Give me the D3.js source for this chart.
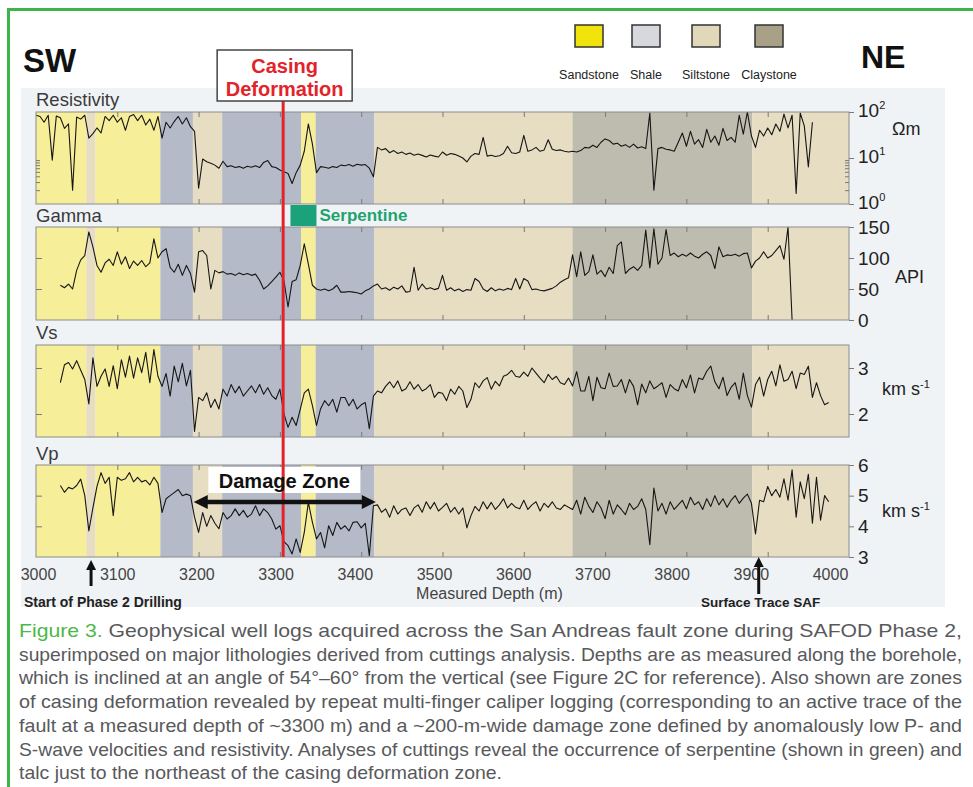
<!DOCTYPE html>
<html>
<head>
<meta charset="utf-8">
<script src="https://cdn.jsdelivr.net/npm/d3@7"></script>
<style>
  body { margin: 0; background: #fff; }
  svg text { font-family: "Liberation Sans", Arial, sans-serif; }
</style>
</head>
<body>
<svg id="chart"></svg>
<script>
// ---- values ----
const depthTicks = [3000, 3100, 3200, 3300, 3400, 3500, 3600, 3700, 3800, 3900, 4000];
const innerTicks = [3100, 3200, 3300, 3400, 3500, 3600, 3700, 3800, 3900];

// lithology intervals (measured depth, m)
const lithFrom = [3000, 3062, 3073, 3153, 3193, 3229, 3326, 3344, 3416, 3660, 3881];
const lithTo   = [3062, 3073, 3153, 3193, 3229, 3326, 3344, 3416, 3660, 3881, 4000];
const lithType = ["Sandstone", "Siltstone", "Sandstone", "Shale", "Siltstone", "Shale",
                  "Sandstone", "Shale", "Siltstone", "Claystone", "Siltstone"];
const legendNames = ["Sandstone", "Shale", "Siltstone", "Claystone"];

// log samples every 5 m
const logStep = 5;
const resistivityStart = 3000;
const resistivity = [
  85, 80, 60, 85, 9, 82, 75, 44, 55, 2.0,
  78, 70, 85, 27, 34, 45, 35, 80, 65, 85,
  60, 75, 40, 80, 88, 65, 85, 52, 70, 40,
  80, 27, 60, 45, 62, 80, 55, 75, 48, 38,
  2.2, 9.5, 8.3, 7.7, 7.0, 6.0, 8.5, 6.5, 6.8, 6.2,
  6.5, 6.0, 6.6, 6.3, 6.8, 6.2, 8.0, 8.8, 6.5, 6.2,
  5.5, 5.0, 4.6, 2.8, 4.8, 7.0, 14, 55, 20, 4.8,
  6.5, 6.3, 6.0, 6.5, 6.2, 7.0, 6.8, 7.2, 6.6, 7.3,
  7.0, 7.2, 6.0, 3.9, 17, 15, 16, 13, 14.5, 12.5,
  13.5, 12, 12.8, 11.5, 12.2, 11.4, 10.5, 11.6, 11.0, 10.5,
  13.5, 11.5, 12.5, 12.0, 11.0, 10.0, 8.2, 11.0, 12.5, 12.0,
  28, 11.0, 11.5, 10.8, 11.2, 12.5, 18, 13, 12.5, 13.5,
  31, 14, 15, 17, 14, 15, 25, 15.5, 14.5, 15,
  14, 13.5, 14, 13.5, 14.5, 17, 16.5, 19, 17, 22,
  26, 24, 20, 21, 18, 19.5, 17, 20, 16.5, 17.5,
  16, 95, 2.0, 16, 17, 15.5, 15, 14, 22, 35,
  18, 38, 20, 25, 17, 42, 22, 30, 19, 44,
  24, 28, 22, 85, 33, 100, 30, 17, 40, 30,
  45, 32, 55, 38, 90, 45, 85, 1.7, 95, 50,
  6.4, 60
];
const gammaStart = 3030;
const gamma = [
  56, 52, 58, 50, 80, 97, 104, 142, 118, 88,
  77, 92, 98, 88, 110, 90, 102, 83, 95, 88,
  96, 86, 92, 131, 100, 110, 115, 85, 77, 90,
  72, 88, 75, 45, 110, 112, 104, 50, 80, 76,
  78, 74, 75, 72, 76, 73, 75, 72, 74, 64,
  50, 55, 62, 69, 77, 63, 21, 62, 65, 88,
  123, 90, 56, 50, 48, 50, 47, 50, 56, 45,
  45, 46, 45, 44, 42, 47, 50, 55, 58, 50,
  52, 48, 53, 50, 55, 45, 46, 85, 48, 58,
  50, 52, 49, 51, 72, 48, 52, 47, 50, 46,
  49, 48, 67, 62, 50, 46, 52, 47, 50, 48,
  51, 49, 67, 50, 67, 63, 49, 50, 48, 47,
  49, 51, 55, 61, 65, 68, 105, 70, 110, 72,
  78, 105, 74, 80, 70, 85, 75, 120, 126, 75,
  82, 86, 80, 88, 145, 84, 147, 90, 100, 146,
  104, 108, 102, 106, 103, 108, 103, 100, 106, 110,
  104, 83, 118, 102, 105, 104, 106, 103, 107, 108,
  84, 95, 100, 110, 100, 104, 112, 120, 98, 150,
  0
];
const vsStart = 3030;
const vs = [
  2.68, 3.07, 3.12, 2.98, 3.16, 2.95, 2.75, 2.22, 3.22, 2.60,
  2.82, 2.98, 2.60, 3.05, 2.55, 3.18, 2.80, 3.26, 2.78, 3.22,
  2.90, 3.34, 2.68, 3.40, 2.82, 2.60, 2.88, 2.39, 3.04, 2.70,
  3.10, 2.61, 2.95, 1.62, 2.36, 2.29, 2.46, 2.14, 2.32, 2.11,
  2.54, 2.39, 2.64, 2.46, 2.60, 2.39, 2.50, 2.61, 2.46, 2.64,
  2.43, 2.57, 2.40, 2.32, 2.54, 2.00, 1.71, 1.93, 1.75, 2.10,
  2.46, 2.54, 2.18, 1.75, 2.11, 2.29, 2.18, 2.32, 2.04, 2.36,
  2.36, 2.18, 2.32, 2.11, 2.20, 2.25, 1.68, 2.39, 2.50, 2.46,
  2.60, 2.70, 2.57, 2.72, 2.50, 2.55, 2.70, 2.54, 2.64, 2.50,
  2.55, 2.64, 2.36, 2.47, 2.45, 2.29, 2.54, 2.43, 2.60, 2.50,
  2.14, 2.32, 2.68, 2.57, 2.72, 2.79, 2.54, 2.71, 2.61, 2.82,
  2.86, 2.95, 2.82, 2.80, 2.91, 2.82, 3.00, 2.89, 2.78, 2.68,
  2.86, 2.75, 2.82, 2.68, 2.64, 2.78, 2.61, 2.92, 2.50, 2.50,
  2.82, 2.29, 2.80, 2.57, 2.55, 2.89, 2.60, 2.61, 2.75, 2.46,
  2.75, 2.60, 2.20, 2.65, 2.46, 2.72, 2.55, 2.61, 2.68, 2.36,
  2.64, 2.55, 2.50, 2.75, 2.57, 2.85, 2.46, 2.78, 2.75, 2.93,
  3.04, 2.70, 2.55, 2.80, 2.40, 2.58, 2.68, 2.32, 2.89, 2.40,
  2.15, 2.64, 2.80, 2.39, 2.75, 2.93, 2.61, 3.07, 2.71, 2.75,
  2.93, 2.55, 2.89, 2.86, 3.04, 2.36, 2.68, 2.40, 2.20, 2.25
];
const vpStart = 3030;
const vp = [
  5.33, 5.11, 5.27, 5.22, 5.33, 5.54, 5.00, 3.85, 4.60, 5.30,
  5.75, 5.40, 5.60, 4.35, 5.60, 5.50, 5.55, 5.75, 5.45, 5.60,
  5.45, 5.50, 5.35, 5.60, 5.40, 4.45, 4.90, 5.00, 5.10, 5.20,
  5.00, 5.05, 5.00, 4.30, 3.80, 4.45, 4.00, 4.35, 4.10, 3.92,
  4.45, 4.24, 4.35, 4.57, 4.35, 4.52, 4.30, 4.40, 4.67, 4.35,
  4.57, 4.45, 4.24, 3.91, 4.02, 3.50, 3.37, 3.10, 3.59, 3.15,
  3.80, 4.78, 4.13, 3.59, 3.80, 3.30, 4.02, 3.70, 4.13, 3.91,
  4.02, 3.85, 4.13, 4.15, 3.95, 4.10, 3.04, 4.67, 4.70, 4.46,
  4.57, 4.30, 4.67, 4.40, 4.55, 4.60, 4.35, 4.60, 4.70, 4.46,
  4.80, 4.57, 4.78, 4.50, 4.62, 4.75, 4.46, 4.62, 4.40, 4.60,
  3.95, 4.35, 4.65, 4.50, 4.80, 4.57, 4.78, 4.55, 4.70, 4.90,
  4.60, 4.75, 4.62, 4.57, 4.85, 4.55, 4.70, 4.80, 4.50, 4.75,
  4.62, 4.80, 4.60, 4.55, 4.70, 4.62, 4.55, 4.85, 4.40, 4.95,
  4.65, 4.45, 4.80, 4.60, 4.25, 4.85, 4.40, 4.70, 4.55, 4.38,
  4.75, 4.55, 4.65, 4.90, 4.55, 3.40, 5.25, 4.50, 4.75, 4.40,
  4.80, 4.55, 4.70, 4.85, 4.57, 4.95, 4.70, 4.80, 4.55, 4.90,
  4.65, 5.00, 4.70, 4.90, 4.62, 4.85, 5.00, 4.75, 4.92, 5.05,
  4.75, 3.75, 4.85, 4.80, 5.30, 5.00, 5.20, 4.95, 5.55, 4.85,
  5.84, 4.30, 5.45, 4.90, 5.70, 4.10, 5.60, 4.20, 5.00, 4.80
];

const resistivityTicks = [1, 10, 100];
const resistivityMinor = [2, 3, 4, 5, 6, 7, 8, 9];
const gammaTicks = [0, 50, 100, 150];
const vsTicks = [2, 3];
const vpTicks = [3, 4, 5, 6];

const casingDepth = 3304;
const serpentineZone = [3313, 3345];
const damageZone = [3194, 3418];
const damageLabelZone = [3212, 3399];
const phase2Depth = 3067;
const safDepth = 3910;

const captionLines = [
  "Geophysical well logs acquired across the San Andreas fault zone during SAFOD Phase 2,",
  "superimposed on major lithologies derived from cuttings analysis. Depths are as measured along the borehole,",
  "which is inclined at an angle of 54°–60° from the vertical (see Figure 2C for reference). Also shown are zones",
  "of casing deformation revealed by repeat multi-finger caliper logging (corresponding to an active trace of the",
  "fault at a measured depth of ~3300 m) and a ~200-m-wide damage zone defined by anomalously low P- and",
  "S-wave velocities and resistivity. Analyses of cuttings reveal the occurrence of serpentine (shown in green) and",
  "talc just to the northeast of the casing deformation zone."
];

// ---- drawing ----
const width = 973, height = 787;
const bandColor = { Sandstone: "#f6ee99", Shale: "#b4bac7", Siltstone: "#e7ddc3", Claystone: "#bdbcae" };
const legendColor = { Sandstone: "#f1e30c", Shale: "#d7d8dd", Siltstone: "#e1d7b9", Claystone: "#a9a088" };

const svg = d3.select("#chart").attr("width", width).attr("height", height);

// panels and their lithology / log traces
const x = d3.scaleLinear().domain([3000, 4000]).range([36, 849]);
// the depth labels under the panels sit on a slightly tighter spacing in the original
const xLabel = d3.scaleLinear().domain([3000, 4000]).range([38, 830]);
const R = x(4000);

// green frame + light figure background
svg.append("rect").attr("x", 21).attr("y", 88).attr("width", 924).attr("height", 519).attr("fill", "#f0f3f6");
svg.append("line").attr("x1", 7).attr("x2", width).attr("y1", 9.5).attr("y2", 9.5)
  .attr("stroke", "#3fb44b").attr("stroke-width", 3);
svg.append("line").attr("x1", 8.5).attr("x2", 8.5).attr("y1", 8).attr("y2", height)
  .attr("stroke", "#3fb44b").attr("stroke-width", 3);

const panels = [
  { label: "Resistivity", labelY: 106, top: 112, bottom: 204, y: d3.scaleLog().domain([1, 100]),
    start: resistivityStart, values: resistivity, ticks: resistivityTicks, edge: resistivityMinor, unit: "Ωm", unitX: 43, unitY: 135 },
  { label: "Gamma", labelY: 222, top: 227, bottom: 320, y: d3.scaleLinear().domain([0, 150]),
    start: gammaStart, values: gamma, ticks: gammaTicks, edge: [50, 100], unit: "API", unitX: 46, unitY: 283 },
  { label: "Vs", labelY: 339, top: 345, bottom: 437, y: d3.scaleLinear().domain([1.5, 3.5]),
    start: vsStart, values: vs, ticks: vsTicks, edge: vsTicks, unit: "km s", unitX: 33, unitY: 395 },
  { label: "Vp", labelY: 460, top: 465, bottom: 557, y: d3.scaleLinear().domain([3, 6]),
    start: vpStart, values: vp, ticks: vpTicks, edge: [4, 5], unit: "km s", unitX: 33, unitY: 517 }
];

const lith = lithFrom.map((d, i) => ({ from: d, to: lithTo[i], type: lithType[i] }));
const defs = svg.append("defs");

panels.forEach((p, k) => {
  p.y.range([p.bottom, p.top]).clamp(true);
  const g = svg.append("g");

  g.selectAll("rect.band")
    .data(lith)
    .enter().append("rect")
    .attr("x", d => x(d.from))
    .attr("width", d => x(d.to) - x(d.from))
    .attr("y", p.top).attr("height", p.bottom - p.top)
    .attr("fill", d => bandColor[d.type]);

  defs.append("clipPath").attr("id", "clip" + k)
    .append("rect").attr("x", x(3000)).attr("y", p.top)
    .attr("width", R - x(3000)).attr("height", p.bottom - p.top);

  const line = d3.line()
    .x((v, i) => x(p.start + i * logStep))
    .y(v => p.y(v));

  g.append("path")
    .datum(p.values)
    .attr("clip-path", "url(#clip" + k + ")")
    .attr("d", line)
    .attr("fill", "none")
    .attr("stroke", "#161616")
    .attr("stroke-width", 1.1)
    .attr("stroke-linejoin", "round");

  g.append("rect").attr("x", x(3000)).attr("y", p.top)
    .attr("width", R - x(3000)).attr("height", p.bottom - p.top)
    .attr("fill", "none").attr("stroke", "#8c8c8c").attr("stroke-width", 1);

  // inward depth ticks on top and bottom edges
  const tTop = g.append("g").attr("transform", `translate(0,${p.top})`)
    .call(d3.axisBottom(x).tickValues(innerTicks).tickSize(5).tickFormat(""));
  const tBot = g.append("g").attr("transform", `translate(0,${p.bottom})`)
    .call(d3.axisTop(x).tickValues(innerTicks).tickSize(5).tickFormat(""));
  // inward value ticks on the left edge
  const tLeft = g.append("g").attr("transform", `translate(${x(3000)},0)`)
    .call(d3.axisRight(p.y).tickValues(p.edge).tickSize(k === 0 ? 4 : 6).tickFormat(""));
  [tTop, tBot, tLeft].forEach(a => {
    a.select(".domain").remove();
    a.selectAll("line").attr("stroke", "#7a7a7a");
  });
  if (k === 0) {
    const tIn = g.append("g").attr("transform", `translate(${R},0)`)
      .call(d3.axisLeft(p.y).tickValues(p.edge).tickSize(4).tickFormat(""));
    tIn.select(".domain").remove();
    tIn.selectAll("line").attr("stroke", "#7a7a7a");
  }

  // right value axis
  const ax = g.append("g").attr("transform", `translate(${R},0)`)
    .call(d3.axisRight(p.y).tickValues(p.ticks).tickSize(5).tickPadding(4)
      .tickFormat(k === 0 ? "" : d3.format("d")));
  ax.select(".domain").remove();
  ax.selectAll("line").attr("stroke", "#7a7a7a");
  ax.selectAll("text").attr("font-size", 19).attr("fill", "#222")
    .attr("font-family", "Liberation Sans, Arial, sans-serif");

  if (k === 0) {
    p.ticks.forEach(v => {
      const t = g.append("text").attr("x", R + 9).attr("y", p.y(v) + 5)
        .attr("font-size", 19).attr("fill", "#222");
      t.append("tspan").text("10");
      t.append("tspan").attr("dy", -8).attr("font-size", 11).text(Math.round(Math.log10(v)));
    });
  }

  // panel name
  svg.append("text").attr("x", 36).attr("y", p.labelY)
    .attr("font-size", 18.5).attr("fill", "#3a3a3a").text(p.label);

  // unit
  const u = svg.append("text").attr("x", R + p.unitX).attr("y", p.unitY)
    .attr("font-size", 18).attr("fill", "#222");
  u.append("tspan").text(p.unit);
  if (p.unit === "km s") u.append("tspan").attr("dy", -7).attr("font-size", 11).text("-1");
});

// bottom depth axis
const bx = svg.append("g").attr("transform", `translate(0,${panels[3].bottom})`)
  .call(d3.axisBottom(xLabel).tickValues(depthTicks).tickSize(0).tickPadding(12).tickFormat(d3.format("d")));
bx.select(".domain").remove();
bx.selectAll("text").attr("font-size", 16).attr("fill", "#444")
  .attr("font-family", "Liberation Sans, Arial, sans-serif");
svg.append("text").attr("x", xLabel(3570)).attr("y", 599).attr("text-anchor", "middle")
  .attr("font-size", 16).attr("fill", "#444").text("Measured Depth (m)");

// casing deformation line + box
const cx = x(casingDepth);
svg.append("line").attr("x1", cx).attr("x2", cx).attr("y1", 101).attr("y2", panels[3].bottom)
  .attr("stroke", "#e3232a").attr("stroke-width", 3);
svg.append("rect").attr("x", cx - 66).attr("y", 50).attr("width", 135).attr("height", 51)
  .attr("fill", "#fff").attr("stroke", "#444").attr("stroke-width", 1.5);
svg.append("text").attr("x", cx + 1.5).attr("y", 73).attr("text-anchor", "middle")
  .attr("font-size", 20).attr("font-weight", "bold").attr("fill", "#e3232a").text("Casing");
svg.append("text").attr("x", cx + 1.5).attr("y", 96).attr("text-anchor", "middle")
  .attr("font-size", 20).attr("font-weight", "bold").attr("fill", "#e3232a").text("Deformation");

// serpentine marker
svg.append("rect").attr("x", x(serpentineZone[0])).attr("y", 205)
  .attr("width", x(serpentineZone[1]) - x(serpentineZone[0])).attr("height", 21).attr("fill", "#1ca27b");
svg.append("text").attr("x", x(serpentineZone[1]) + 3).attr("y", 221)
  .attr("font-size", 17).attr("font-weight", "bold").attr("fill", "#1ea36f").text("Serpentine");

// damage zone label and double arrow
svg.append("rect").attr("x", x(damageLabelZone[0])).attr("y", 467)
  .attr("width", x(damageLabelZone[1]) - x(damageLabelZone[0])).attr("height", 26).attr("fill", "#fff");
svg.append("line").attr("x1", cx).attr("x2", cx).attr("y1", 467).attr("y2", 493)
  .attr("stroke", "#e3232a").attr("stroke-width", 3);
svg.append("text").attr("x", (x(damageLabelZone[0]) + x(damageLabelZone[1])) / 2).attr("y", 488)
  .attr("text-anchor", "middle").attr("font-size", 20).attr("font-weight", "bold").attr("fill", "#111")
  .text("Damage Zone");
const ay = 502, a0 = x(damageZone[0]), a1 = x(damageZone[1]);
svg.append("line").attr("x1", a0 + 10).attr("x2", a1 - 10).attr("y1", ay).attr("y2", ay)
  .attr("stroke", "#111").attr("stroke-width", 4.5);
svg.append("path").attr("d", `M${a0},${ay} L${a0 + 14},${ay - 7} L${a0 + 14},${ay + 7} Z`).attr("fill", "#111");
svg.append("path").attr("d", `M${a1},${ay} L${a1 - 14},${ay - 7} L${a1 - 14},${ay + 7} Z`).attr("fill", "#111");

// up arrows under the depth axis
function upArrow(px, tip, base) {
  svg.append("line").attr("x1", px).attr("x2", px).attr("y1", tip + 8).attr("y2", base)
    .attr("stroke", "#111").attr("stroke-width", 3);
  svg.append("path").attr("d", `M${px},${tip} L${px - 5},${tip + 10} L${px + 5},${tip + 10} Z`).attr("fill", "#111");
}
upArrow(xLabel(phase2Depth), 560, 586);
upArrow(xLabel(safDepth), 557, 594);
svg.append("text").attr("x", 24).attr("y", 607).attr("font-size", 14).attr("font-weight", "bold")
  .attr("fill", "#222").text("Start of Phase 2 Drilling");
svg.append("text").attr("x", xLabel(safDepth) + 2).attr("y", 607).attr("text-anchor", "middle")
  .attr("font-size", 13.5).attr("font-weight", "bold").attr("fill", "#222").text("Surface Trace SAF");

// SW / NE
svg.append("text").attr("x", 23).attr("y", 72).attr("font-size", 33).attr("font-weight", "bold")
  .attr("fill", "#111").text("SW");
svg.append("text").attr("x", R + 12).attr("y", 68).attr("font-size", 32).attr("font-weight", "bold")
  .attr("fill", "#111").text("NE");

// lithology legend
const legendX = [575, 632, 692, 755];
legendNames.forEach((n, i) => {
  svg.append("rect").attr("x", legendX[i]).attr("y", 25).attr("width", 28).attr("height", 22)
    .attr("fill", legendColor[n]).attr("stroke", "#333").attr("stroke-width", 1.5);
  svg.append("text").attr("x", legendX[i] + 14).attr("y", 79).attr("text-anchor", "middle")
    .attr("font-family", "Open Sans, sans-serif").attr("font-size", 12.5).attr("fill", "#222").text(n);
});

// caption
const capX = 19, capRight = 962, capY0 = 637, capStep = 23.7;
captionLines.forEach((s, i) => {
  const t = svg.append("text").attr("x", capX).attr("y", capY0 + i * capStep)
    .attr("font-family", "Roboto, sans-serif").attr("font-weight", 300).attr("font-size", 18.5)
    .attr("fill", "#58595b")
    .attr("textLength", i < captionLines.length - 1 ? capRight - capX : 483)
    .attr("lengthAdjust", "spacingAndGlyphs");
  if (i === 0) {
    t.append("tspan").attr("fill", "#4db848").text("Figure 3. ");
  }
  t.append("tspan").text(s);
});
</script>
</body>
</html>
